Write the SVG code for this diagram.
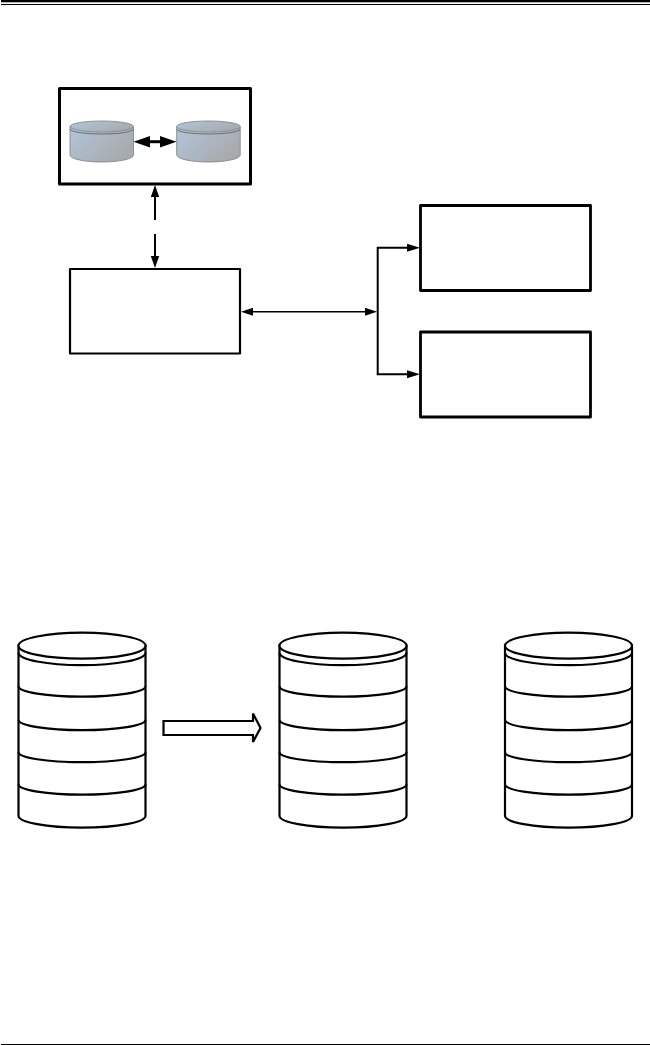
<svg xmlns="http://www.w3.org/2000/svg" width="650" height="1045" viewBox="0 0 650 1045">
<style>
.box{fill:#fff;stroke:#000;stroke-linejoin:round}
.cyl{fill:#fff;stroke:#000;stroke-width:2.200}
.cylline{fill:none;stroke:#000;stroke-width:2.200}
.mini{fill:url(#g);stroke:#85898e;stroke-width:.9}
.miniline{fill:none;stroke:#5f6469;stroke-width:.9}
.c{fill:none;stroke:#000;stroke-width:1.600}
.h{fill:#000;stroke:none}
</style>
<defs>
<linearGradient id="g" x1="0" y1="0" x2="1" y2="0.6">
<stop offset="0" stop-color="#b3c5da"/><stop offset=".45" stop-color="#aeb9c6"/><stop offset="1" stop-color="#a8aaac"/>
</linearGradient>
<g id="bigcyl">
<path class="cyl" d="M0 13V183A63.500 12 0 0 0 127 183V13Z"/>
<ellipse class="cyl" cx="63.500" cy="13" rx="63.500" ry="13"/>
<path class="cylline" d="M0 20A63.500 12.500 0 0 0 127 20M0 53.500A63.500 10.500 0 0 0 127 53.500M0 87A63.500 10.500 0 0 0 127 87M0 119.500A63.500 10 0 0 0 127 119.500M0 151.500A63.500 10.500 0 0 0 127 151.500"/>
</g>
<g id="minicyl">
<path class="mini" d="M0 6.500V35A31.750 7 0 0 0 63.500 35V6.500Z"/>
<ellipse class="mini" cx="31.750" cy="6.500" rx="31.750" ry="5.500"/>
<path class="miniline" d="M0 9A31.750 5 0 0 0 63.500 9"/>
</g>
</defs>
<rect width="650" height="1045" fill="#fff"/>
<g id="page-rules">
<rect x="1" y="0" width="649" height="2.300" fill="#000"/>
<rect x="1" y="4" width="649" height="1" fill="#000"/>
<rect x="1" y="1044" width="649" height="1" fill="#000"/>
</g>
<g id="node-storage-pair">
<rect class="box" x="59.500" y="88.500" width="191" height="95.500" stroke-width="3"/>
<use href="#minicyl" x="70" y="120"/>
<use href="#minicyl" x="176.700" y="120"/>
</g>
<g id="node-left"><rect class="box" x="70" y="269" width="170" height="84.500" stroke-width="2.200"/></g>
<g id="node-right-top"><rect class="box" x="420.500" y="205.500" width="170" height="85" stroke-width="2.800"/></g>
<g id="node-right-bottom"><rect class="box" x="420.500" y="332" width="170" height="85" stroke-width="2.800"/></g>
<g id="node-cylinder-1"><use href="#bigcyl" x="18.500" y="632.700"/></g>
<g id="node-cylinder-2"><use href="#bigcyl" x="279.500" y="632.700"/></g>
<g id="node-cylinder-3"><use href="#bigcyl" x="505" y="632.700"/></g>
<g id="connectors">
<path d="M145 141.700H165" fill="none" stroke="#000" stroke-width="3"/>
<path class="h" d="M133.500 141.700L150 136V147.400ZM176.500 141.700L160 136V147.400Z"/>
<path d="M155 195V220M155 234V258" fill="none" stroke="#000" stroke-width="2"/>
<path class="h" d="M155 185L159.200 197H150.800ZM155 268L150.800 256H159.200Z"/>
<path class="c" d="M250 311.700H370"/>
<path class="h" d="M241 311.700L253 307.700V315.700ZM377 311.700L365 307.700V315.700Z"/>
<path d="M410 247.700H377.700V374.300H410" fill="none" stroke="#000" stroke-width="2"/>
<path class="h" d="M420 247.700L407 243.700V251.700ZM420 374.300L407 370.300V378.300Z"/>
<path d="M163.500 721H253V713.500L260.500 728L253 742V735H163.500Z" fill="#fff" stroke="#000" stroke-width="2.200"/>
</g>
</svg>
